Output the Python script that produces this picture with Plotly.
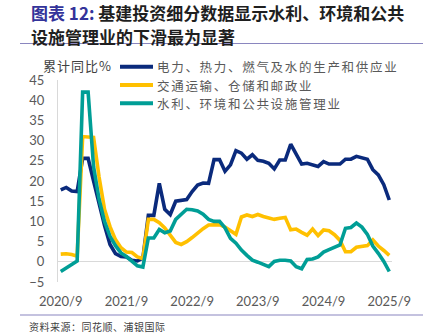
import plotly.graph_objects as go
import pandas as pd

# Monthly cumulative YoY growth (%), 2020/9 .. 2025/9
months = [f"{p.year}/{p.month}" for p in pd.period_range("2020-09", "2025-09", freq="M")]

power = [17.8, 18.4, 17.5, 17.4, 25.6, 25.6, 20.0, 14.4, 9.0, 4.3, 2.0, 1.3, 1.2, 0.4, 0.2, 0.9,
         11.5, 11.5, 19.4, 13.0, 11.7, 15.0, 15.1, 15.4, 17.4, 19.0, 19.5, 19.4,
         25.3, 25.3, 22.4, 24.0, 27.5, 26.9, 25.4, 26.5, 25.1, 24.9, 24.4, 23.0,
         25.2, 25.2, 29.1, 26.6, 24.2, 24.4, 24.1, 23.6, 24.8, 24.2, 24.2, 24.2,
         25.4, 25.4, 26.1, 25.7, 25.4, 22.8, 21.5, 19.1, 15.3]

transport = [1.9, 2.0, 1.8, 1.4, 31.0, 31.0, 30.8, 21.0, 13.0, 8.7, 5.5, 3.5, 2.4, 2.3, 1.2, 0.8,
             10.5, 10.5, 9.7, 8.4, 6.5, 4.8, 4.3, 5.0, 6.0, 7.2, 8.2, 9.1,
             9.2, 9.2, 8.6, 7.7, 6.8, 11.1, 11.6, 11.2, 11.7, 11.2, 10.8, 10.5,
             10.8, 11.0, 7.9, 8.1, 7.3, 6.6, 8.1, 6.5, 7.9, 7.7, 6.7, 5.3,
             2.5, 2.5, 3.6, 3.8, 4.0, 5.4, 3.9, 2.8, 1.6]

water = [-2.4, -1.6, -0.8, 0.2, 42.0, 42.0, 23.5, 15.5, 10.0, 6.3, 4.0, 2.2, 1.3, 0.0, -1.0, -1.3,
         5.9, 5.9, 8.0, 7.2, 7.6, 10.5, 11.9, 13.0, 12.9, 12.6, 11.8, 10.5,
         10.0, 10.0, 8.4, 5.8, 4.6, 2.9, 1.6, 0.4, -0.1, -0.7, -1.2, 0.1,
         0.4, 0.4, 0.2, -1.2, -1.7, 0.6, 0.7, 1.2, 2.4, 3.0, 3.6, 4.2,
         8.3, 8.5, 9.6, 8.6, 6.8, 3.9, 2.1, 0.1, -2.4]

names = ["电力、热力、燃气及水的生产和供应业", "交通运输、仓储和邮政业", "水利、环境和公共设施管理业"]
colors = ["#0a2a7c", "#ffc000", "#009e96"]
series = [power, transport, water]

W, H = 431, 336
L, R, T, B = 58, 39, 80, 54
PW, PH = W - L - R, H - T - B


def px(x):
    return (x - L) / PW


def py(y):
    return (H - B - y) / PH


CJK = "Noto Sans CJK SC"
NUM = "Lato, Noto Sans CJK SC"

fig = go.Figure()
for name, vals, c in zip(names, series, colors):
    fig.add_trace(go.Scatter(x=months, y=vals, mode="lines", name=name,
                             line=dict(color=c, width=3.6), showlegend=False))

shapes = []
annotations = []

# legend: line sample + label for each series
LEG_FS = 12.5
row_gap = 18.2
for i, (name, c) in enumerate(zip(names, colors)):
    yy = 85 + (i - 1) * row_gap
    shapes.append(dict(type="line", xref="paper", yref="paper",
                       x0=px(120), x1=px(153), y0=py(yy), y1=py(yy),
                       line=dict(color=c, width=4)))
    annotations.append(dict(xref="paper", yref="paper", x=px(156), y=py(yy),
                            xanchor="left", yanchor="middle", showarrow=False,
                            borderpad=0,
                            text=f"<span style='letter-spacing:1.7px'>{name}</span>",
                            font=dict(family=CJK, size=LEG_FS, color="#595959")))

# title lines
annotations.append(dict(xref="paper", yref="paper", x=px(29), y=py(13),
                        xanchor="left", yanchor="middle", showarrow=False,
                        text="<b><span style='color:#33339a'>图表 12:</span> 基建投资细分数据显示水利、环境和公共</b>",
                        font=dict(family=CJK, size=17, color="#1f1f1f")))
annotations.append(dict(xref="paper", yref="paper", x=px(29), y=py(36),
                        xanchor="left", yanchor="middle", showarrow=False,
                        text="<b>设施管理业的下滑最为显著</b>",
                        font=dict(family=CJK, size=17, color="#1f1f1f")))

# axis caption
annotations.append(dict(xref="paper", yref="paper", x=px(41), y=py(66),
                        xanchor="left", yanchor="middle", showarrow=False,
                        text="<span style='letter-spacing:1px'>累计同比%</span>",
                        font=dict(family=CJK, size=13, color="#404040")))

# source note
annotations.append(dict(xref="paper", yref="paper", x=px(27), y=py(326),
                        xanchor="left", yanchor="middle", showarrow=False,
                        text="<span style='letter-spacing:0.5px'>资料来源：同花顺、浦银国际</span>",
                        font=dict(family=CJK, size=10, color="#404040")))

# header / footer rules
for yy in (43.5, 315):
    shapes.append(dict(type="line", xref="paper", yref="paper",
                       x0=px(20), x1=px(423), y0=py(yy), y1=py(yy),
                       line=dict(color="#8a86bf", width=1.2)))

fig.update_layout(
    width=W, height=H,
    margin=dict(l=L, r=R, t=T, b=B),
    paper_bgcolor="white", plot_bgcolor="white",
    shapes=shapes, annotations=annotations,
    xaxis=dict(type="category", range=[-0.5, len(months) - 0.5],
               tickmode="array", tickvals=months[::12], ticktext=months[::12],
               showgrid=False, zeroline=False, showline=False, ticks="",
               ticklabelstandoff=10,
               tickfont=dict(family=NUM, size=13, color="#595959")),
    yaxis=dict(range=[-5, 45], dtick=5, tick0=0,
               showgrid=False, zeroline=True, zerolinecolor="#d9d9d9", zerolinewidth=1,
               showline=True, linecolor="#d9d9d9", linewidth=1, ticks="",
               ticklabelstandoff=10,
               tickfont=dict(family=NUM, size=13, color="#595959")),
)

fig.write_html("out.html")
